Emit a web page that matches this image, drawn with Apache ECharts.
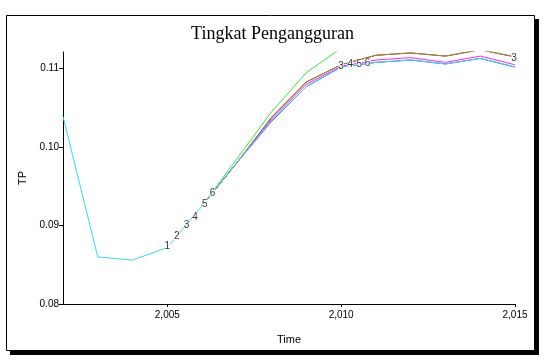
<!doctype html>
<html>
<head>
  <meta charset="utf-8">
  <title>Tingkat Pengangguran</title>
  <script src="https://cdn.jsdelivr.net/npm/echarts@6/dist/echarts.min.js"></script>
  <style>
    html, body { margin: 0; padding: 0; background: #fff; }
    #main { width: 545px; height: 362px; }
  </style>
</head>
<body>
<div id="main"></div>
<script>
// data (annual values); runs 1-5 hide under run 6 before 2006
var years = [2002, 2003, 2004, 2005, 2006, 2007, 2008, 2009, 2010, 2011, 2012, 2013, 2014, 2015];
var run1 = [null, null, null, null, 0.0925, 0.0980, 0.1033, 0.1077, 0.1102, 0.1108, 0.1111, 0.1106, 0.1113, 0.1102];
var run2 = [null, null, null, null, 0.0925, 0.0980, 0.1038, 0.1083, 0.1105, 0.1117, 0.1120, 0.1116, 0.1124, 0.1115];
var run3 = [null, null, null, null, 0.0925, 0.0985, 0.1045, 0.1095, 0.1126];
var run4 = [null, null, null, null, 0.0925, 0.0980, 0.1038, 0.1083, 0.1105, 0.1117, 0.1120, 0.1116, 0.1124, 0.1115];
var run5 = [null, null, null, null, 0.0925, 0.0980, 0.1036, 0.1080, 0.1103, 0.1111, 0.1114, 0.1108, 0.1116, 0.1105];
var run6 = [0.1039, 0.0860, 0.0856, 0.0872, 0.0925, 0.0980, 0.1034, 0.1077, 0.1102, 0.1108, 0.1111, 0.1106, 0.1113, 0.1102];
var runColors = ['#3a3aff', '#9a1a1a', '#33e633', '#a08c2a', '#ff22ff', '#33e0e8'];
var xTicks = [2005, 2010, 2015];
var yTicks = [0.08, 0.09, 0.10, 0.11];
// run number labels placed along the curves [year, value, text]
var runLabels = [
  [2005.0, 0.0873, '1'], [2005.27, 0.0886, '2'], [2005.55, 0.0900, '3'],
  [2005.8, 0.0911, '4'], [2006.08, 0.0927, '5'], [2006.3, 0.0941, '6'],
  [2010.0, 0.1103, '3'], [2010.26, 0.1105, '4'], [2010.52, 0.1106, '5'], [2010.76, 0.1107, '6'],
  [2014.97, 0.1113, '3']
];

function pairs(arr) {
  return arr.map(function (v, i) { return [years[i], v == null ? '-' : v]; });
}
var runs = [run1, run2, run3, run4, run5, run6];
var series = runs.map(function (r, i) {
  return {
    type: 'line', data: pairs(r), showSymbol: false, clip: true,
    lineStyle: { width: 1, color: runColors[i] }, z: 2 + i, animation: false
  };
});
series.push({
  type: 'scatter', symbolSize: 0, z: 20, animation: false,
  data: runLabels.map(function (d) { return [d[0], d[1], d[2]]; }),
  label: {
    show: true, position: 'inside', color: '#000', fontSize: 10,
    fontFamily: 'Liberation Sans, Arial, sans-serif',
    backgroundColor: '#fff', padding: [0, 0],
    formatter: function (p) { return p.data[2]; }
  }
});

var myChart = echarts.init(document.getElementById('main'));
var option = {
  backgroundColor: '#fff',
  animation: false,
  title: {
    text: 'Tingkat Pengangguran', left: 'center', top: 20,
    textStyle: { fontFamily: 'Liberation Serif, Times New Roman, serif', fontWeight: 'normal', fontSize: 18, color: '#000' }
  },
  grid: { left: 63, right: 30, top: 52, bottom: 58 },
  xAxis: {
    type: 'value', min: 2002, max: 2015,
    name: 'Time', nameLocation: 'middle', nameGap: 30,
    nameTextStyle: { fontFamily: 'Liberation Sans, Arial, sans-serif', fontSize: 11, color: '#000' },
    axisLine: { lineStyle: { color: '#000', width: 1 } },
    axisTick: { customValues: xTicks, length: 3, lineStyle: { color: '#000' } },
    axisLabel: {
      customValues: xTicks, color: '#000', fontSize: 10, margin: 6,
      fontFamily: 'Liberation Sans, Arial, sans-serif',
      formatter: function (v) { var s = String(v); return s.charAt(0) + ',' + s.slice(1); }
    },
    splitLine: { show: false }
  },
  yAxis: {
    type: 'value', min: 0.08, max: 0.11212,
    name: 'TP', nameLocation: 'middle', nameGap: 34, nameRotate: 90,
    nameTextStyle: { fontFamily: 'Liberation Sans, Arial, sans-serif', fontSize: 11, color: '#000' },
    axisLine: { show: true, lineStyle: { color: '#000', width: 1 } },
    axisTick: { show: true, customValues: yTicks, length: 4, lineStyle: { color: '#000' } },
    axisLabel: {
      customValues: yTicks, color: '#000', fontSize: 10, margin: 4,
      fontFamily: 'Liberation Sans, Arial, sans-serif',
      formatter: function (v) { return v.toFixed(2); }
    },
    splitLine: { show: false }
  },
  graphic: [
    { type: 'rect', shape: { x: 6.5, y: 15.5, width: 528, height: 335 }, style: { fill: null, stroke: '#000', lineWidth: 1 }, z: 100 },
    { type: 'rect', shape: { x: 10, y: 350, width: 529, height: 5 }, style: { fill: '#000' }, z: 100 },
    { type: 'rect', shape: { x: 534, y: 19, width: 5, height: 336 }, style: { fill: '#000' }, z: 100 }
  ],
  series: series
};
myChart.setOption(option);
</script>
</body>
</html>
